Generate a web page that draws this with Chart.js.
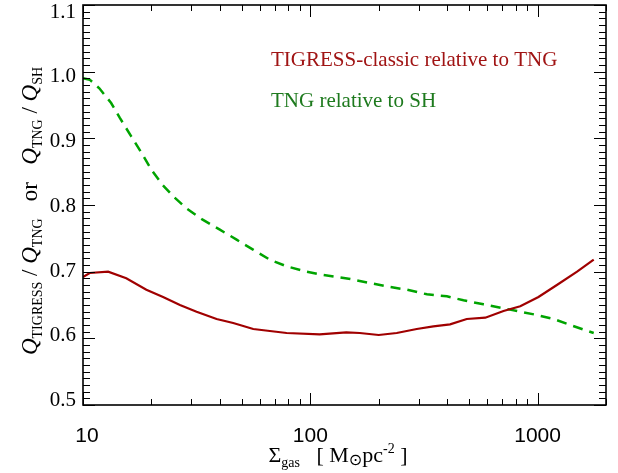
<!DOCTYPE html>
<html><head><meta charset="utf-8">
<script src="https://cdn.jsdelivr.net/npm/chart.js@4.4.1/dist/chart.umd.min.js"></script>
<style>html,body{margin:0;padding:0;background:#fff}#wrap{width:618px;height:473px}</style>
</head><body><div id="wrap"><canvas id="c" width="618" height="473"></canvas></div>
<script>
// ---- data ----
const seriesNames = ["TIGRESS-classic relative to TNG", "TNG relative to SH"];
const redX = [10, 10.7, 12.9, 15.5, 19, 22.5, 26.7, 31.6, 38.7, 45.8, 56.1, 66.4, 78.7, 110, 144, 165, 200, 240, 294, 348, 412, 488, 589, 708, 839, 1009, 1216, 1492, 1766];
const redY = [0.692, 0.698, 0.700, 0.690, 0.673, 0.662, 0.650, 0.640, 0.629, 0.623, 0.614, 0.611, 0.608, 0.606, 0.609, 0.608, 0.605, 0.608, 0.614, 0.618, 0.621, 0.629, 0.631, 0.641, 0.648, 0.662, 0.680, 0.700, 0.718];
const greenX = [10, 10.7, 11.8, 13.3, 14.5, 16.3, 18.1, 20, 22.4, 25.3, 28.5, 33.6, 40, 47.4, 56, 66.4, 78.7, 96.4, 114, 150, 183, 224, 266, 326, 399, 472, 578, 708, 839, 993, 1175, 1393, 1766];
const greenY = [0.990, 0.988, 0.975, 0.953, 0.931, 0.903, 0.878, 0.853, 0.830, 0.811, 0.795, 0.778, 0.763, 0.748, 0.733, 0.718, 0.708, 0.700, 0.695, 0.689, 0.683, 0.677, 0.673, 0.666, 0.663, 0.657, 0.651, 0.645, 0.640, 0.635, 0.629, 0.620, 0.608];
const xTickLabels = [10, 100, 1000];
const yTickValues = [0.5, 0.6, 0.7, 0.8, 0.9, 1.0, 1.1];

const SERIF = '"Liberation Serif", "DejaVu Serif", serif';
const SANS = '"Liberation Sans", Arial, sans-serif';

function drawRich(ctx, segs, x, y, rotate) {
  ctx.save();
  ctx.translate(x, y);
  if (rotate) ctx.rotate(-Math.PI / 2);
  let total = 0;
  segs.forEach(s => { ctx.font = s.font; s.w = ctx.measureText(s.t).width; total += s.w; });
  let cx = -total / 2;
  ctx.textBaseline = 'alphabetic';
  ctx.textAlign = 'left';
  segs.forEach(s => { ctx.font = s.font; ctx.fillText(s.t, cx, s.dy || 0); cx += s.w; });
  ctx.restore();
}

const framePlugin = {
  id: 'frame',
  afterDatasetsDraw(chart) {
    const { ctx, chartArea: a, scales: { x, y } } = chart;
    ctx.save();
    ctx.strokeStyle = '#000';
    ctx.lineWidth = 1;
    // x ticks (log)
    for (let d = 10; d <= x.max; d *= 10) {
      for (let k = 1; k <= 9; k++) {
        const v = d * k;
        if (v < x.min || v > x.max) continue;
        const px = Math.round(x.getPixelForValue(v)) + 0.5;
        const len = k === 1 ? 12 : 6;
        ctx.beginPath();
        ctx.moveTo(px, a.bottom); ctx.lineTo(px, a.bottom - len);
        ctx.moveTo(px, a.top); ctx.lineTo(px, a.top + len);
        ctx.stroke();
      }
    }
    // y ticks
    const n = Math.round((y.max - y.min) / 0.01);
    for (let i = 0; i <= n; i++) {
      const v = y.min + i * 0.01;
      const py = Math.round(y.getPixelForValue(v)) + 0.5;
      const len = i % 10 === 0 ? 12 : 7;
      ctx.beginPath();
      ctx.moveTo(a.left, py); ctx.lineTo(a.left + len, py);
      ctx.moveTo(a.right, py); ctx.lineTo(a.right - len, py);
      ctx.stroke();
    }
    ctx.lineWidth = 1.6;
    ctx.strokeRect(a.left, a.top, a.right - a.left, a.bottom - a.top);
    ctx.restore();
  },
  afterDraw(chart) {
    const { ctx, chartArea: a, scales: { x, y } } = chart;
    ctx.save();
    ctx.fillStyle = '#000';
    // y tick labels
    ctx.font = '21px ' + SERIF;
    ctx.textAlign = 'right';
    ctx.textBaseline = 'middle';
    yTickValues.forEach(v => {
      const k = Math.round((y.max - v) / 0.1);
      ctx.fillText(v.toFixed(1), a.left - 7, y.getPixelForValue(v) + 7 - 1.9 * k);
    });
    // x tick labels
    ctx.font = '21px ' + SANS;
    ctx.textAlign = 'center';
    ctx.textBaseline = 'top';
    xTickLabels.forEach(v => {
      ctx.fillText(String(v), x.getPixelForValue(v) + (v === 10 ? 4 : 0), a.bottom + 21);
    });
    // x title
    const big = '22px ' + SERIF, small = '14px ' + SERIF;
    drawRich(ctx, [
      { t: 'Σ', font: big },
      { t: 'gas', font: small, dy: 5 },
      { t: '   [ M', font: big },
      { t: '⊙', font: '16px "DejaVu Sans", sans-serif', dy: 3 },
      { t: 'pc', font: big },
      { t: '-2', font: small, dy: -9 },
      { t: ' ]', font: big }
    ], 338, 462, false);
    // y title
    const q = 'italic 23px ' + SERIF, sub = '14px ' + SERIF, sp = '23px ' + SERIF;
    drawRich(ctx, [
      { t: 'Q', font: q }, { t: 'TIGRESS', font: sub, dy: 5 },
      { t: ' / ', font: sp },
      { t: 'Q', font: q }, { t: 'TNG', font: sub, dy: 5 },
      { t: '   or   ', font: sp },
      { t: 'Q', font: q }, { t: 'TNG', font: sub, dy: 5 },
      { t: ' / ', font: sp },
      { t: 'Q', font: q }, { t: 'SH', font: sub, dy: 5 }
    ], 37, 211, true);
    // legend texts
    ctx.font = '21px ' + SERIF;
    ctx.textAlign = 'left';
    ctx.textBaseline = 'alphabetic';
    ctx.fillStyle = '#a01414';
    ctx.fillText(seriesNames[0], 271, 66);
    ctx.fillStyle = '#1e7a1e';
    ctx.fillText(seriesNames[1], 271, 107);
    ctx.restore();
  }
};

new Chart(document.getElementById('c').getContext('2d'), {
  type: 'line',
  data: {
    datasets: [
      { label: seriesNames[0], data: redX.map((v, i) => ({ x: v, y: redY[i] })),
        borderColor: '#a00000', borderWidth: 2.2, pointRadius: 0, tension: 0, fill: false },
      { label: seriesNames[1], data: greenX.map((v, i) => ({ x: v, y: greenY[i] })),
        borderColor: '#00a400', borderWidth: 2.5, borderDash: [10, 7], pointRadius: 0, tension: 0, fill: false }
    ]
  },
  options: {
    responsive: false,
    animation: false,
    layout: { padding: { left: 83, right: 12, top: 5, bottom: 68 } },
    plugins: { legend: { display: false }, tooltip: { enabled: false } },
    scales: {
      x: { type: 'logarithmic', min: 10, max: 2000, display: false },
      y: { type: 'linear', min: 0.5, max: 1.1, display: false }
    }
  },
  plugins: [framePlugin]
});
</script>
</body></html>
